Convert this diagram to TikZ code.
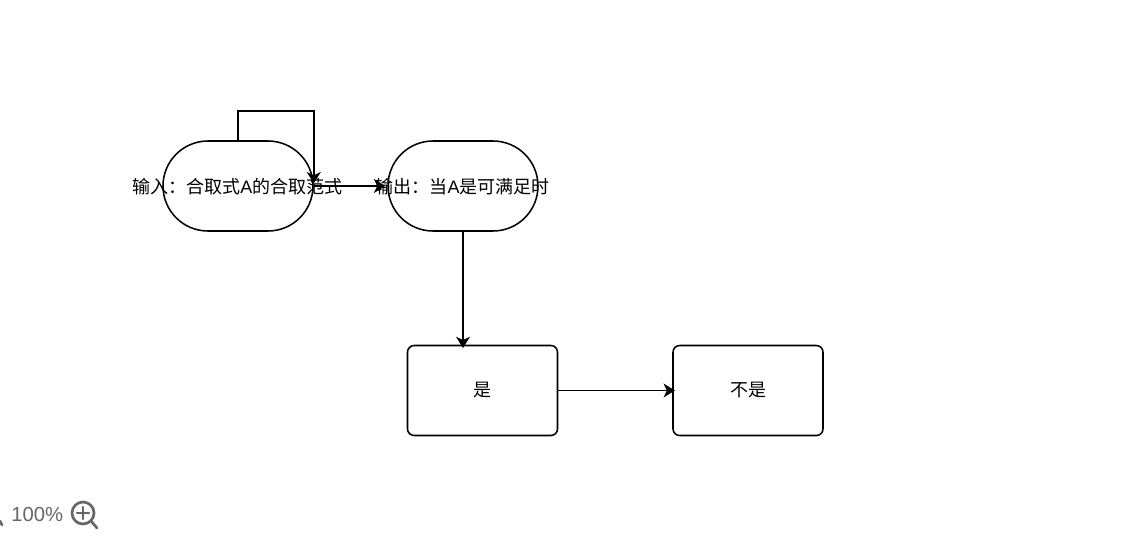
\documentclass[tikz,border=0pt]{standalone}
\usepackage{fontspec}
\setmainfont{Liberation Sans}
\newfontfamily\cjk{Noto Sans CJK SC}
\usetikzlibrary{arrows.meta}
\tikzset{
  pill/.style={draw=black,line width=1.15pt,fill=white,rectangle,rounded corners=33.75pt,minimum width=112.5pt,minimum height=67.5pt,inner sep=0pt},
  boxnode/.style={draw=black,line width=1.15pt,fill=white,rectangle,rounded corners=5pt,minimum width=112.5pt,minimum height=67.5pt,inner sep=0pt,font=\fontsize{13.5pt}{16pt}\selectfont},
  txt/.style={font=\fontsize{13.5pt}{16pt}\selectfont,inner sep=0pt},
  conn/.style={draw=black,line width=1.15pt,-{Stealth[length=8.5pt,width=10.5pt,inset=2.5pt]}},
  icon/.style={draw=black!60,line width=2pt,line cap=round},
}
\begin{document}
\begin{tikzpicture}[x=0.75pt,y=-0.75pt]
\useasboundingbox (0,0) rectangle (1132,546);
\node[pill] (a) at (238,186) {};
\node[pill] (b) at (463,186) {};
\node[boxnode] (c) at (482.5,390.5) {\raisebox{-0.5pt}{\cjk 是}};
\node[boxnode] (d) at (748,390.5) {\raisebox{-0.5pt}{\cjk 不是}};
\coordinate (looptop) at (238,111);
\draw[conn,shorten >=2pt] (a.north) -- (looptop) -| (a.east);
\draw[conn,shorten >=1.5pt] (a.east) -- (b.west);
\draw[conn,shorten >=-2.5pt] (b.south) -- (b.south |- c.north);
\draw[conn,shorten >=-2pt] (c.east) -- (d.west);
\node[txt] (atext) at (237.5,186.5) {{\cjk 输入：合取式}A{\cjk 的合取范式}};
\node[txt] (btext) at (462.5,186.5) {{\cjk 输出：当}A{\cjk 是可满足时}};
\node[font=\fontsize{15.2pt}{18pt}\selectfont,text=black!60,inner sep=0pt,anchor=west] (zoomtext) at (11,515) {100\%};
\draw[icon] (83,513) circle (11);
\draw[icon] (91,521) -- (97,528);
\draw[icon] (77,513) -- (89,513);
\draw[icon] (83,507) -- (83,519);
\draw[icon] (0,521) -- (2,525);
\end{tikzpicture}
\end{document}
